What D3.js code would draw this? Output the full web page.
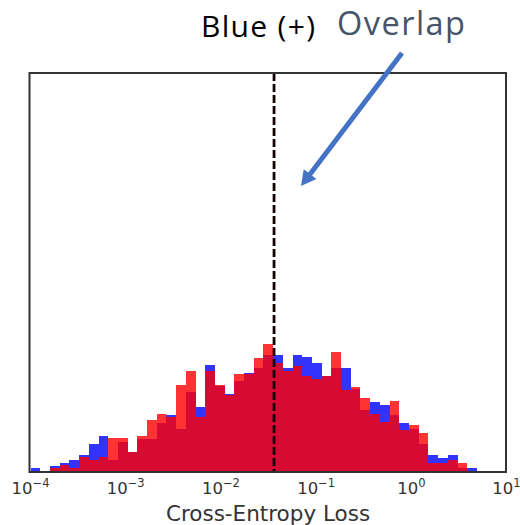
<!DOCTYPE html>
<html>
<head>
<meta charset="utf-8">
<script src="https://cdn.jsdelivr.net/npm/d3@7"></script>
<style>
  body { margin: 0; background: #fff; }
  svg { display: block; }
</style>
</head>
<body>
<script>
///////////////   Data   ///////////////

// log10 bin layout of the histogram (equal-width bins in log space)
var binStartLog = -3.993,
    binWidthLog = 0.1019;

// bar heights per bin (arbitrary count units)
var blueCounts = [4, 1.3, 6, 9, 12, 17, 28, 36, 12, 30, 20, 33, 33, 49, 57, 43,
                  80, 65, 107, 86, 78, 91, 99, 104, 117, 117, 104, 117, 115, 109,
                  96, 104, 104, 83, 62, 70, 67, 57, 49, 43, 28, 17, 14, 17, 4, 4];
var redCounts  = [1.3, 0.5, 4, 6.7, 4, 14.7, 12, 14.7, 34, 34, 20, 36, 52, 58, 55, 87,
                  101, 55, 101, 87, 77, 98, 98, 114, 128, 109, 101, 106, 96, 93,
                  96, 120, 82, 85, 74, 58, 50, 71, 42, 47, 39, 9, 9, 12, 9, 0];

var tickValues = [1e-4, 1e-3, 1e-2, 1e-1, 1, 10];
var tickExps   = ["\u22124", "\u22123", "\u22122", "\u22121", "0", "1"];

var thresholdValue = 0.0366;
var yMax = 399;

///////////////   Layout   ///////////////

var width = 520, height = 525;
var plot = { left: 30, right: 506, top: 73, bottom: 472 };
var axisFont = "'DejaVu Sans', sans-serif";

var svg = d3.select("body").append("svg")
    .attr("width", width)
    .attr("height", height);

var x = d3.scaleLog().domain([1e-4, 10]).range([plot.left, plot.right]);
var y = d3.scaleLinear().domain([0, yMax]).range([plot.bottom, plot.top]);

function binLo(i) { return Math.pow(10, binStartLog + i * binWidthLog); }
function binHi(i) { return Math.pow(10, binStartLog + (i + 1) * binWidthLog); }

// blue first, red drawn over it; both translucent so the overlap turns crimson
function drawBars(counts, color, cls) {
    svg.selectAll("." + cls)
        .data(counts)
      .enter().append("rect")
        .attr("class", cls)
        .attr("x", function(d, i) { return x(binLo(i)); })
        .attr("width", function(d, i) { return x(binHi(i)) - x(binLo(i)); })
        .attr("y", function(d) { return y(d); })
        .attr("height", function(d) { return y(0) - y(d); })
        .attr("fill", color)
        .attr("fill-opacity", 0.8)
        .attr("shape-rendering", "crispEdges");
}
drawBars(blueCounts, "#0000ff", "blueBar");
drawBars(redCounts, "#ff0000", "redBar");

// threshold line
svg.append("line")
    .attr("x1", x(thresholdValue)).attr("x2", x(thresholdValue))
    .attr("y1", plot.top).attr("y2", plot.bottom)
    .attr("stroke", "#140303")
    .attr("stroke-width", 2.8)
    .attr("stroke-dasharray", "8,3");

// frame
svg.append("rect")
    .attr("x", plot.left - 0.5).attr("y", plot.top)
    .attr("width", plot.right - plot.left + 0.5)
    .attr("height", plot.bottom - plot.top)
    .attr("fill", "none")
    .attr("stroke", "#333")
    .attr("stroke-width", 2);

// x axis: tick labels only, mathtext-like powers of ten
var xAxis = d3.axisBottom(x).tickValues(tickValues).tickSize(0).tickFormat("");
var gx = svg.append("g")
    .attr("transform", "translate(0," + plot.bottom + ")")
    .call(xAxis);
gx.select(".domain").remove();

gx.selectAll(".tick").each(function(d, i) {
    var t = d3.select(this).append("text")
        .attr("y", 22)
        .attr("fill", "#333")
        .attr("text-anchor", "middle")
        .style("font-family", axisFont)
        .style("font-size", "16.5px");
    t.append("tspan").text("10");
    t.append("tspan")
        .attr("dy", -7)
        .style("font-size", "11.5px")
        .text(tickExps[i]);
});

svg.append("text")
    .attr("x", (plot.left + plot.right) / 2)
    .attr("y", 520.5)
    .attr("text-anchor", "middle")
    .attr("fill", "#333")
    .style("font-family", axisFont)
    .style("font-size", "21.5px")
    .text("Cross-Entropy Loss");

// annotations
svg.append("text")
    .attr("x", 201)
    .attr("y", 37)
    .attr("fill", "#000")
    .attr("textLength", 114)
    .attr("lengthAdjust", "spacing")
    .style("font-family", "'Open Sans', sans-serif")
    .style("font-size", "30px")
    .text("Blue (+)");

svg.append("text")
    .attr("x", 337)
    .attr("y", 35)
    .attr("fill", "#44546a")
    .attr("textLength", 128)
    .attr("lengthAdjust", "spacing")
    .style("font-family", "'Open Sans', sans-serif")
    .style("font-size", "32.5px")
    .text("Overlap");

// arrow pointing into the overlap region
var arrowFrom = [402, 53], arrowTip = [301, 186];
var dx = arrowTip[0] - arrowFrom[0], dy = arrowTip[1] - arrowFrom[1];
var len = Math.sqrt(dx * dx + dy * dy), ux = dx / len, uy = dy / len;
var headLen = 15, headHalf = 8;
var baseX = arrowTip[0] - ux * headLen, baseY = arrowTip[1] - uy * headLen;

svg.append("line")
    .attr("x1", arrowFrom[0]).attr("y1", arrowFrom[1])
    .attr("x2", baseX + ux * 2).attr("y2", baseY + uy * 2)
    .attr("stroke", "#4472c4")
    .attr("stroke-width", 5);

svg.append("path")
    .attr("d", "M" + arrowTip[0] + "," + arrowTip[1] +
               "L" + (baseX - uy * headHalf) + "," + (baseY + ux * headHalf) +
               "L" + (baseX + uy * headHalf) + "," + (baseY - ux * headHalf) + "Z")
    .attr("fill", "#4472c4");
</script>
</body>
</html>
